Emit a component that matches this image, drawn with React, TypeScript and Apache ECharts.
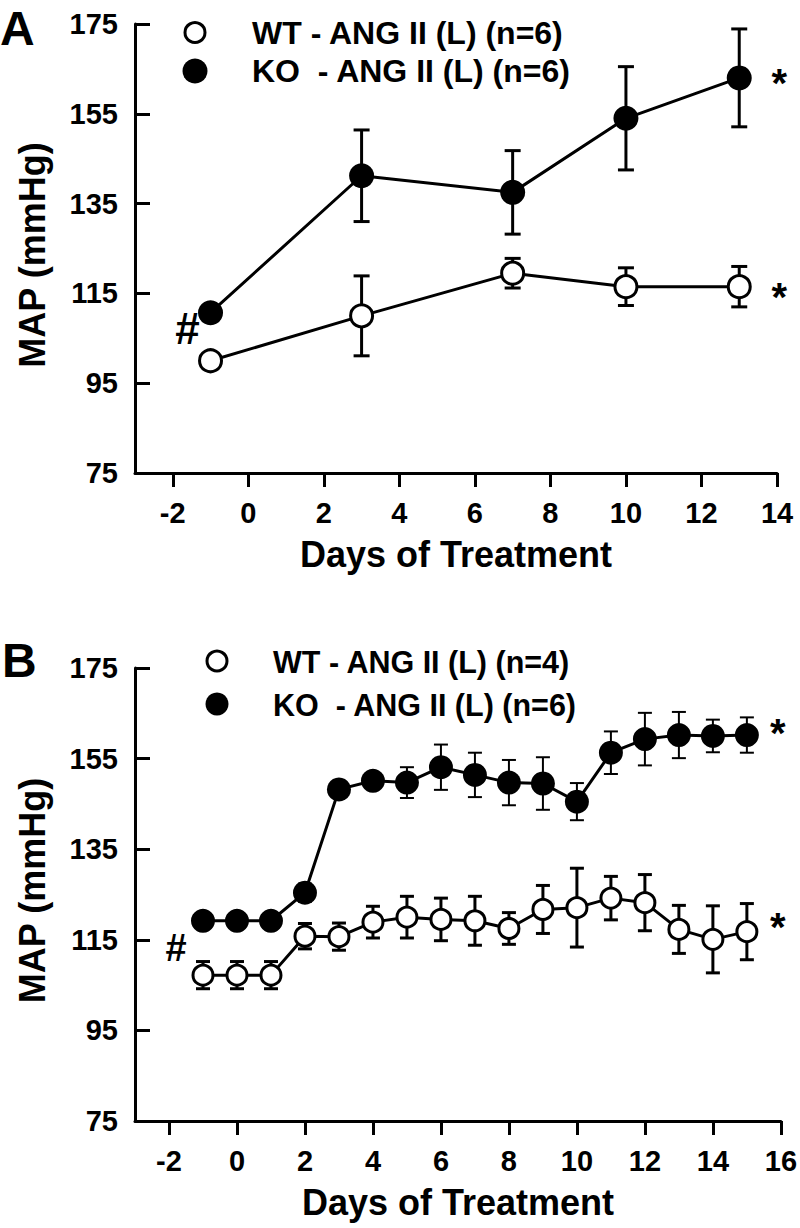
import React, { useEffect, useRef } from "react";
import * as echarts from "echarts";

// ---------- Panel A data ----------
const daysA = [-1, 3, 7, 10, 13];
const wtA = [100, 110, 119.5, 116.5, 116.5];
const wtAErr = [1, 8.9, 3.3, 4.2, 4.5];
const koA = [110.7, 141.2, 137.5, 154, 163];
const koAErr = [1, 10.2, 9.3, 11.5, 10.9];

// ---------- Panel B data ----------
const daysB = [-1, 0, 1, 2, 3, 4, 5, 6, 7, 8, 9, 10, 11, 12, 13, 14, 15];
const wtB = [107.2, 107.2, 107.2, 115.8, 115.7, 118.9, 120.0, 119.5, 119.2, 117.5, 121.7, 122.1, 124.2, 123.2, 117.3, 115.1, 116.8];
const wtBErr = [3, 3, 3, 2.8, 3, 3.5, 4.6, 4.7, 5.4, 3.5, 5.3, 8.7, 4.8, 6.2, 5.3, 7.4, 6.2];
const koB = [119.2, 119.2, 119.2, 125.4, 148.2, 150.1, 149.7, 153.1, 151.4, 149.7, 149.5, 145.5, 156.3, 159.3, 160.2, 160.0, 160.2];
const koBErr = [1, 1, 1, 2, 1.5, 1.5, 3.4, 5, 4.9, 5, 5.8, 4.1, 4.7, 5.8, 5.1, 3.6, 3.9];

// ---------- Axis ticks / labels ----------
const xTicksA = [-2, 0, 2, 4, 6, 8, 10, 12, 14];
const xTicksB = [-2, 0, 2, 4, 6, 8, 10, 12, 14, 16];
const legendA = ["WT - ANG II (L) (n=6)", "KO  - ANG II (L) (n=6)"];
const legendB = ["WT - ANG II (L) (n=4)", "KO  - ANG II (L) (n=6)"];
const xTitle = "Days of Treatment";
const yTitle = "MAP (mmHg)";

const FONT = "'Liberation Sans', Arial, sans-serif";

function errorSeries(days: number[], means: number[], errs: number[], axis: number, lw: number, capHalf: number) {
  return {
    type: "custom",
    xAxisIndex: axis,
    yAxisIndex: axis,
    z: 1,
    silent: true,
    data: days.map((d, i) => [d, means[i] - errs[i], means[i] + errs[i]]),
    encode: { x: 0, y: [1, 2] },
    renderItem: (params: any, api: any) => {
      const x = api.value(0);
      const lo = api.coord([x, api.value(1)]);
      const hi = api.coord([x, api.value(2)]);
      const st = { stroke: "#000", lineWidth: lw };
      return {
        type: "group",
        children: [
          { type: "line", shape: { x1: lo[0], y1: lo[1], x2: hi[0], y2: hi[1] }, style: st },
          { type: "line", shape: { x1: hi[0] - capHalf, y1: hi[1], x2: hi[0] + capHalf, y2: hi[1] }, style: st },
          { type: "line", shape: { x1: lo[0] - capHalf, y1: lo[1], x2: lo[0] + capHalf, y2: lo[1] }, style: st },
        ],
      };
    },
  };
}

function xAxisDef(idx: number, max: number, ticks: number[]) {
  return {
    type: "value",
    gridIndex: idx,
    min: -3,
    max,
    splitLine: { show: false },
    axisLine: { onZero: false, lineStyle: { color: "#000", width: 3 } },
    axisTick: { show: true, customValues: ticks, inside: false, length: 14, lineStyle: { color: "#000", width: 3 } },
    axisLabel: { customValues: ticks, margin: 25, fontSize: 29, fontWeight: "bold", color: "#000", fontFamily: FONT },
    name: xTitle,
    nameLocation: "middle",
    nameGap: 63,
    nameTextStyle: { fontSize: 36, fontWeight: "bold", color: "#000", fontFamily: FONT },
  };
}

function yAxisDef(idx: number, pad: number[]) {
  return {
    type: "value",
    gridIndex: idx,
    min: 75,
    max: 175,
    interval: 20,
    splitLine: { show: false },
    axisLine: { onZero: false, lineStyle: { color: "#000", width: 3 } },
    axisTick: { show: true, inside: true, length: 15, lineStyle: { color: "#000", width: 3 } },
    axisLabel: { margin: 17, fontSize: 29, fontWeight: "bold", color: "#000", fontFamily: FONT },
    name: yTitle,
    nameLocation: "middle",
    nameGap: 85,
    nameTextStyle: { fontSize: 36, fontWeight: "bold", color: "#000", fontFamily: FONT, padding: pad },
  };
}

function markLabel(text: string, offset: number[], size: number) {
  return { show: true, position: "inside", formatter: text, offset, fontSize: size, fontWeight: "bold", color: "#000", fontFamily: FONT };
}

function lineSeries(name: string, days: number[], vals: number[], axis: number, open: boolean, size: number, marks: any[]) {
  return {
    type: "line",
    name,
    xAxisIndex: axis,
    yAxisIndex: axis,
    z: 3,
    data: days.map((d, i) => [d, vals[i]]),
    symbol: "circle",
    symbolSize: size,
    showAllSymbol: true,
    lineStyle: { color: "#000", width: 3 },
    itemStyle: open ? { color: "#fff", borderColor: "#000", borderWidth: 3 } : { color: "#000", borderWidth: 0 },
    emphasis: { disabled: true },
    markPoint: {
      symbol: "circle",
      symbolSize: 1,
      itemStyle: { color: "rgba(0,0,0,0)" },
      silent: true,
      data: marks,
    },
  };
}

function legendGraphics(names: string[], cx: number, cys: number[], tx: number, tys: number[], rOpen: number, rFill: number, fs: number) {
  return [
    { type: "circle", shape: { cx, cy: cys[0], r: rOpen }, style: { fill: "#fff", stroke: "#000", lineWidth: 3 } },
    { type: "circle", shape: { cx, cy: cys[1], r: rFill }, style: { fill: "#000" } },
    { type: "text", x: tx, y: tys[0], style: { text: names[0], fill: "#000", font: `bold ${fs}px ${FONT}`, verticalAlign: "middle", textVerticalAlign: "middle" } },
    { type: "text", x: tx, y: tys[1], style: { text: names[1], fill: "#000", font: `bold ${fs}px ${FONT}`, verticalAlign: "middle", textVerticalAlign: "middle" } },
  ];
}

export default function App() {
  const ref = useRef<HTMLDivElement>(null);
  useEffect(() => {
    if (!ref.current) return;
    const chart = echarts.init(ref.current, null, { renderer: "svg" });
    const lastA = daysA.length - 1;
    const lastB = daysB.length - 1;
    chart.setOption({
      animation: false,
      grid: [
        { left: 135, top: 24, width: 642, height: 449 },
        { left: 135, top: 668, width: 646, height: 453 },
      ],
      xAxis: [xAxisDef(0, 14, xTicksA), xAxisDef(1, 16, xTicksB)],
      yAxis: [yAxisDef(0, [0, 13, 0, 0]), yAxisDef(1, [0, 0, 0, 8])],
      series: [
        errorSeries(daysA, wtA, wtAErr, 0, 3, 8),
        errorSeries(daysA, koA, koAErr, 0, 3, 8),
        lineSeries("WT A", daysA, wtA, 0, true, 22, [
          { coord: [daysA[lastA], wtA[lastA]], label: markLabel("*", [40, 10], 40) },
          { coord: [daysA[0], wtA[0]], label: markLabel("#", [-23, -32], 44) },
        ]),
        lineSeries("KO A", daysA, koA, 0, false, 25, [
          { coord: [daysA[lastA], koA[lastA]], label: markLabel("*", [40, 5], 40) },
        ]),
        errorSeries(daysB, wtB, wtBErr, 1, 3, 7),
        errorSeries(daysB, koB, koBErr, 1, 2, 7),
        lineSeries("WT B", daysB, wtB, 1, true, 20, [
          { coord: [daysB[lastB], wtB[lastB]], label: markLabel("*", [31, -5], 40) },
          { coord: [daysB[0], wtB[0]], label: markLabel("#", [-27, -27], 38) },
        ]),
        lineSeries("KO B", daysB, koB, 1, false, 24, [
          { coord: [daysB[lastB], koB[lastB]], label: markLabel("*", [31, -2], 40) },
        ]),
      ],
      graphic: [
        { type: "text", x: 0, y: 28, style: { text: "A", fill: "#000", font: `bold 48px ${FONT}`, verticalAlign: "middle", textVerticalAlign: "middle" } },
        { type: "text", x: 2, y: 660, style: { text: "B", fill: "#000", font: `bold 48px ${FONT}`, verticalAlign: "middle", textVerticalAlign: "middle" } },
        ...legendGraphics(legendA, 195, [32.5, 71], 252, [32.5, 71], 10, 12.5, 32),
        ...legendGraphics(legendB, 217, [661, 704], 273, [661.5, 705], 10, 11.5, 30.5),
      ],
    });
    return () => chart.dispose();
  }, []);
  return <div ref={ref} style={{ position: "absolute", left: 0, top: 0, width: 800, height: 1228, background: "#fff" }} />;
}
